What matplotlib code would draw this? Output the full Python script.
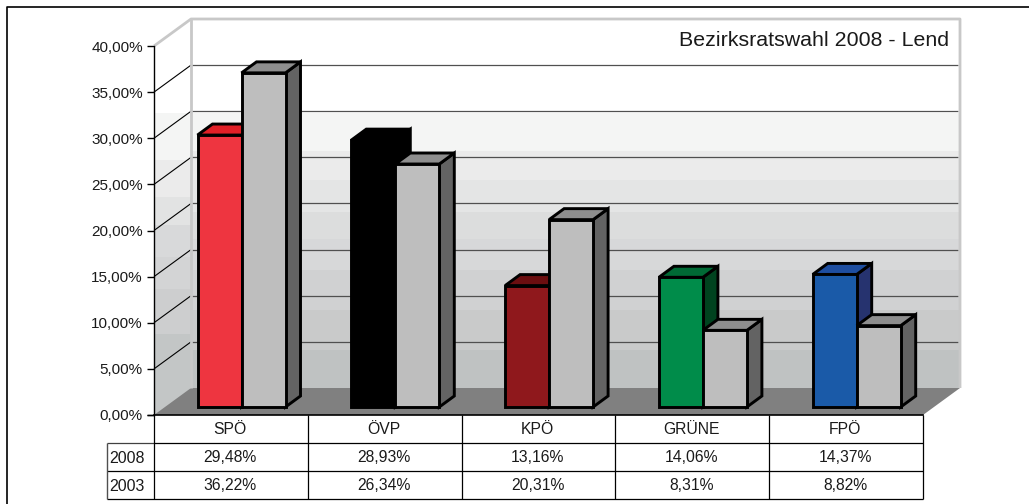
import matplotlib
matplotlib.use("Agg")
import matplotlib.pyplot as plt
from matplotlib.patches import Polygon

plt.rcParams['font.family'] = ['Liberation Sans', 'DejaVu Sans']

categories = ["SPÖ", "ÖVP", "KPÖ", "GRÜNE", "FPÖ"]
years = ["2008", "2003"]
values_2008 = [29.48, 28.93, 13.16, 14.06, 14.37]
values_2003 = [36.22, 26.34, 20.31, 8.31, 8.82]
y_ticks = [0, 5, 10, 15, 20, 25, 30, 35, 40]
title = "Bezirksratswahl 2008 - Lend"

face_2008 = ["#ee3540", "#000000", "#8f181c", "#008c4a", "#1a5aa8"]
top_2008 = ["#e02027", "#000000", "#6b0e10", "#006a35", "#1e4ea0"]
side_2008 = ["#8f1a1e", "#000000", "#5a0c0e", "#00431f", "#26336f"]

W, H = 1029, 504
X0, X1, Y0, Y1 = 154, 923, 415, 46
fig = plt.figure(figsize=(W / 100, H / 100), dpi=100, facecolor="white")
ax = fig.add_axes([X0 / W, 1 - Y0 / H, (X1 - X0) / W, (Y0 - Y1) / H])
ax.set_xlim(0, len(categories))
ax.set_ylim(0, 40)
ax.patch.set_visible(False)

ux = (X1 - X0) / len(categories)
uy = (Y0 - Y1) / 40


def px(x, y):
    return (x - X0) / ux, (Y0 - y) / uy


def poly(pts, z, fc, ec="none", lw=0):
    ax.add_patch(Polygon([px(*p) for p in pts], closed=True, fc=fc, ec=ec, lw=lw,
                         zorder=z, clip_on=False, joinstyle="miter"))


def line(pts, z, c, lw):
    xy = [px(*p) for p in pts]
    ax.plot([a for a, _ in xy], [b for _, b in xy], color=c, lw=lw, zorder=z,
            clip_on=False, solid_capstyle="butt")


DX, DY = 37, 27
# wall bands
back_bands = [(113, "#f4f5f4"), (151, "#ebebeb"), (180, "#e4e5e5"), (212, "#dcdddd"),
              (239, "#d7d8d9"), (270, "#d0d1d2"), (310, "#c9caca"), (350, "#bfc2c2")]
left_bands = [(113, "#f4f5f4"), (160, "#ebebeb"), (197, "#e2e3e3"), (225, "#d8d9da"),
              (257, "#d3d4d5"), (289, "#cdcecf"), (334, "#c3c6c6")]
for i, (y, c) in enumerate(back_bands):
    y2 = back_bands[i + 1][0] if i + 1 < len(back_bands) else Y0 - DY
    poly([(191, y), (960, y), (960, y2), (191, y2)], 1, c)
for i, (y, c) in enumerate(left_bands):
    y2 = left_bands[i + 1][0] if i + 1 < len(left_bands) else Y0
    poly([(X0, y), (191, y), (191, y2), (X0, y2)], 1, c)
# floor
poly([(X0, Y0), (X1, Y0), (X1 + DX, Y0 - DY), (X0 + DX, Y0 - DY)], 2, "#808080")

# grid lines on the walls
for t in y_ticks[1:-1]:
    y = Y0 - t * uy
    line([(X0, y), (X0 + DX, y - DY)], 3, "black", 0.8)
    line([(X0 + DX, y - DY), (X1 + DX - 2, y - DY)], 3, "#505050", 0.9)
# light wall border
line([(X0, Y1), (X0 + DX, Y1 - DY), (X1 + DX, Y1 - DY), (X1 + DX, Y0 - DY)], 3, "#c8c8c8", 2.0)
line([(X0 + DX, Y1 - DY), (X0 + DX, Y0 - DY)], 3, "#c8c8c8", 2.0)


def bar(x, v, fc, tc, sc, z):
    w, dx, dy, base = 44, 15, 11, Y0 - 8
    top = base - v * uy
    lw = 2.1
    poly([(x + w, base), (x + w + dx, base - dy), (x + w + dx, top - dy), (x + w, top)], z, sc, "black", lw)
    poly([(x, top), (x + dx, top - dy), (x + w + dx, top - dy), (x + w, top)], z, tc, "black", lw)
    poly([(x, base), (x + w, base), (x + w, top), (x, top)], z, fc, "black", lw)


for i, cat in enumerate(categories):
    x = X0 + ux * i + 43.5
    bar(x, values_2008[i], face_2008[i], top_2008[i], side_2008[i], 5 + 2 * i)
    bar(x + 44, values_2003[i], "#bebebe", "#8e8e8e", "#636363", 6 + 2 * i)

# axes
for s in ("top", "right"):
    ax.spines[s].set_visible(False)
ax.spines["left"].set_linewidth(1.0)
ax.spines["bottom"].set_linewidth(1.2)
ax.spines["left"].set_zorder(4)
ax.spines["bottom"].set_zorder(4)
ax.set_xticks([])
ax.set_yticks(y_ticks)
ax.set_yticklabels([f"{t:.2f}".replace(".", ",") + "%" for t in y_ticks], fontsize=11, color="#1a1a1a")
ax.tick_params(axis="y", length=5, width=1.0, pad=3)
line([(147, Y0), (X0, Y0)], 4, "black", 1.0)

# data table
HL = 107
line([(X0, 443), (X1, 443)], 4, "black", 0.9)
line([(HL, 443), (X0, 443)], 4, "#404040", 0.9)
line([(HL, 471), (X1, 471)], 4, "black", 0.9)
line([(HL, 499), (X1, 499)], 4, "black", 0.9)
line([(HL, 443), (HL, 499)], 4, "#505050", 1.0)
for i in range(len(categories) + 1):
    x = X0 + ux * i
    line([(x, Y0), (x, 499)], 4, "black", 0.9)
for i, cat in enumerate(categories):
    cx = X0 + ux * (i + 0.5)
    ax.text(*px(cx - 1, 429), cat, ha="center", va="center", fontsize=11.3, color="#1a1a1a", clip_on=False)
    for r, vals in enumerate((values_2008, values_2003)):
        label = f"{vals[i]:.2f}".replace(".", ",") + "%"
        ax.text(*px(cx - 1, 457 + 28 * r), label, ha="center", va="center", fontsize=11.3,
                color="#1a1a1a", clip_on=False)
for r, yr in enumerate(years):
    ax.text(*px(109, 458.5 + 28 * r), yr, ha="left", va="center", fontsize=11.5, color="#1a1a1a", clip_on=False)

# title and outer frame
ax.text(*px(949, 40), title, ha="right", va="center", fontsize=15.4, color="#1a1a1a", zorder=20, clip_on=False)
line([(7, H), (7, 7), (W, 7)], 30, "black", 1.2)

fig.savefig("out.png", dpi=100, facecolor="white")
